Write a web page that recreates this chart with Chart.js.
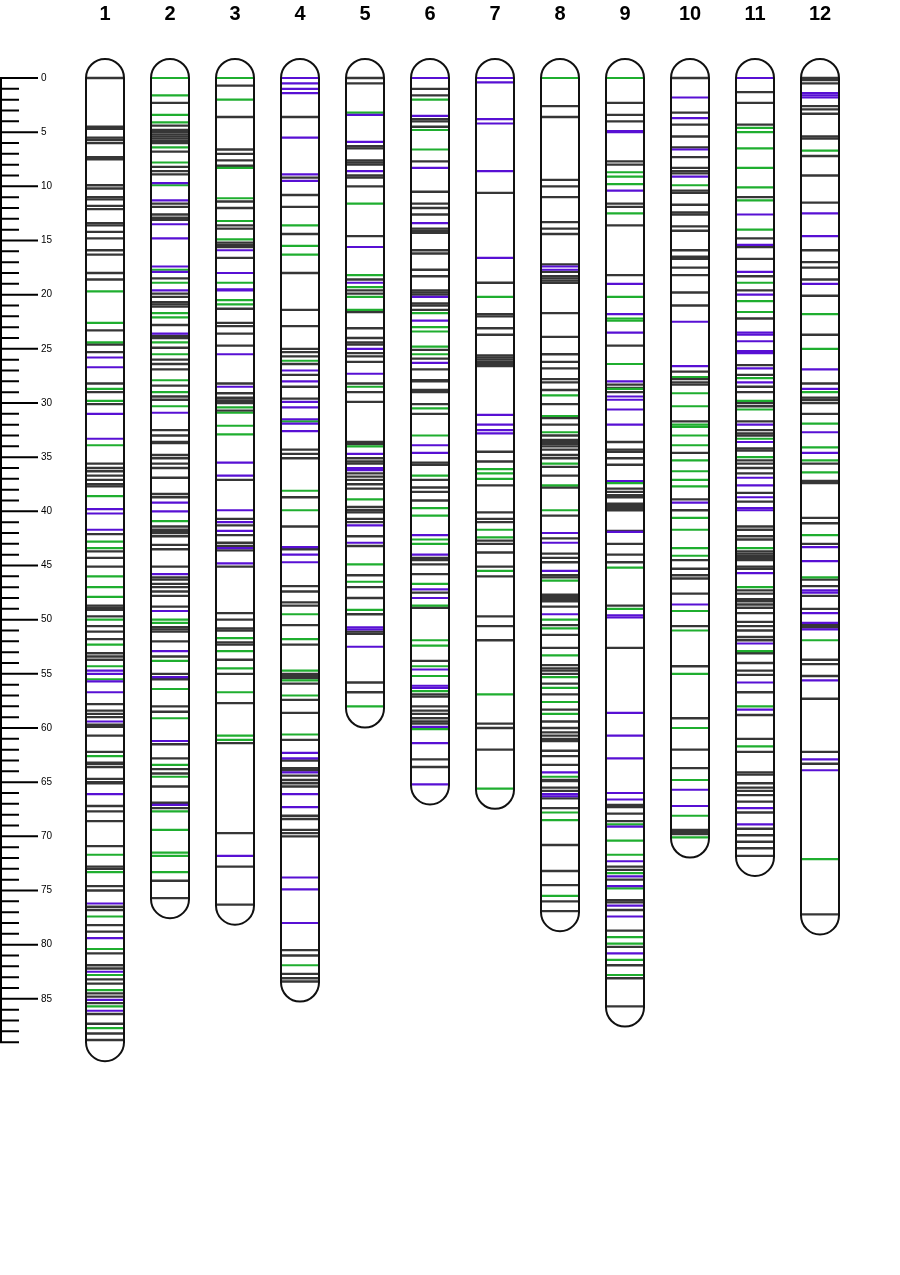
<!DOCTYPE html>
<html>
<head>
<meta charset="utf-8">
<title>Linkage map</title>
<script src="https://cdn.jsdelivr.net/npm/chart.js@4.4.1/dist/chart.umd.min.js"></script>
<style>
  html, body { margin: 0; padding: 0; background: #fff; overflow: hidden; }
  #mapChart { display: block; width: 900px; height: 1275px; }
</style>
</head>
<body>
<canvas id="mapChart" width="900" height="1275"></canvas>
<script>
// ---- data (cM) ----
const chromosomes = ['1', '2', '3', '4', '5', '6', '7', '8', '9', '10', '11', '12'];
const chromLengths = [89.0, 75.8, 76.4, 83.5, 58.2, 65.3, 65.7, 77.0, 85.8, 70.2, 71.9, 77.3];
const rulerEnd = 89;
const rulerLabels = [0, 5, 10, 15, 20, 25, 30, 35, 40, 45, 50, 55, 60, 65, 70, 75, 80, 85];

const grayPos = [
  [0, 4.5, 4.7, 5.5, 5.7, 6.0, 7.3, 7.5, 9.9, 10.2, 11.0, 11.2, 11.8, 12.1, 13.4, 13.6, 14.2, 14.8, 15.9, 16.3, 18.0, 18.6, 23.3, 24.6, 25.3, 28.2, 29.0, 30.1, 35.6, 36.0, 36.3, 36.7, 37.1, 37.5, 37.7, 42.1, 43.7, 44.3, 45.1, 48.7, 48.9, 49.1, 49.7, 50.6, 51.1, 51.8, 53.1, 53.4, 53.7, 57.8, 58.4, 58.7, 59.0, 59.7, 59.9, 60.7, 62.2, 63.2, 63.3, 63.6, 64.7, 65.0, 65.1, 67.2, 67.7, 68.6, 70.9, 72.8, 73.0, 74.6, 75.0, 76.5, 76.8, 78.2, 78.8, 80.8, 81.9, 82.2, 83.2, 83.6, 84.5, 84.8, 85.4, 86.4, 87.3, 88.2, 88.8],
  [2.3, 4.4, 4.8, 5.0, 5.2, 5.4, 5.6, 5.8, 6.0, 6.8, 8.2, 8.6, 8.9, 11.6, 11.9, 12.6, 12.9, 13.1, 18.5, 19.9, 20.2, 20.7, 20.9, 21.1, 22.8, 23.8, 24.0, 24.9, 26.0, 26.4, 26.9, 28.4, 29.4, 29.7, 32.5, 33.0, 33.6, 33.7, 34.8, 35.1, 35.6, 36.0, 36.9, 38.4, 38.7, 41.4, 41.7, 41.9, 42.0, 42.3, 43.1, 43.5, 45.1, 46.1, 46.3, 46.7, 47.0, 47.4, 47.8, 48.8, 50.7, 50.9, 51.1, 52.0, 53.4, 55.0, 55.5, 58.0, 58.5, 61.5, 62.8, 63.8, 64.2, 65.4, 66.9, 67.4, 74.1, 75.7],
  [0.7, 3.6, 6.6, 7.0, 7.6, 8.1, 11.4, 12.0, 13.6, 13.9, 15.2, 15.4, 15.6, 16.6, 21.3, 22.6, 22.9, 23.6, 24.7, 28.2, 29.1, 29.5, 29.6, 29.8, 30.0, 30.7, 37.1, 40.7, 41.3, 42.2, 42.9, 43.2, 43.6, 45.1, 49.4, 50.0, 50.8, 51.0, 52.1, 52.3, 53.7, 55.0, 57.7, 61.4, 69.7, 72.8, 76.3],
  [3.6, 9.2, 10.8, 11.9, 14.4, 18.0, 21.4, 22.9, 25.0, 25.3, 25.7, 26.4, 27.4, 28.5, 29.6, 34.3, 34.7, 35.1, 38.7, 41.4, 43.5, 46.9, 47.4, 48.4, 48.7, 50.5, 52.3, 55.0, 55.2, 55.4, 55.9, 57.4, 58.6, 61.1, 63.0, 63.7, 63.9, 64.4, 64.8, 65.1, 65.4, 68.1, 68.4, 69.4, 69.7, 70.0, 80.5, 81.0, 82.7, 83.1, 83.4],
  [0, 0.5, 6.3, 6.5, 7.6, 7.8, 8.0, 9.0, 9.2, 10.0, 14.6, 18.6, 19.6, 19.9, 21.6, 23.1, 24.0, 24.4, 24.6, 25.4, 25.7, 26.2, 28.2, 29.0, 29.9, 33.6, 33.8, 35.1, 35.4, 35.6, 36.5, 36.8, 37.1, 37.5, 37.9, 39.6, 39.9, 40.1, 40.7, 41.0, 42.3, 43.2, 45.9, 47.0, 48.0, 49.5, 51.1, 51.3, 55.8, 56.7],
  [1.0, 1.6, 3.8, 4.0, 4.5, 7.7, 10.5, 11.6, 12.0, 12.6, 13.9, 14.1, 14.3, 15.9, 16.2, 17.7, 18.3, 19.6, 19.8, 20.0, 20.8, 21.0, 21.4, 25.1, 25.9, 26.9, 27.9, 28.0, 28.8, 29.0, 30.1, 31.0, 35.5, 35.7, 37.1, 37.8, 38.2, 39.0, 44.3, 44.5, 44.9, 45.8, 47.5, 48.9, 53.8, 56.9, 57.1, 58.0, 58.4, 58.7, 59.1, 59.4, 59.6, 62.9, 63.6],
  [10.6, 18.9, 21.8, 22.0, 23.1, 23.7, 25.6, 25.8, 26.0, 26.2, 26.4, 26.6, 34.5, 35.4, 37.6, 40.1, 40.7, 41.0, 42.7, 43.0, 43.8, 45.1, 46.0, 49.7, 50.6, 51.9, 59.6, 60.0, 62.0],
  [2.6, 3.6, 9.4, 10.0, 11.0, 13.3, 13.9, 14.4, 17.2, 17.9, 18.3, 18.5, 18.7, 18.9, 21.7, 23.9, 25.5, 26.2, 26.8, 27.8, 28.1, 28.8, 30.1, 31.4, 32.0, 33.0, 33.4, 33.6, 33.8, 34.0, 34.3, 34.8, 35.1, 35.9, 36.7, 37.8, 40.4, 42.5, 43.9, 44.3, 44.7, 45.9, 46.1, 47.7, 47.9, 48.1, 48.3, 48.8, 50.5, 51.4, 52.6, 54.2, 54.5, 54.7, 55.0, 55.9, 56.9, 58.3, 59.4, 60.0, 60.4, 60.7, 61.0, 61.2, 62.1, 62.6, 63.4, 64.8, 64.9, 65.5, 65.8, 66.5, 67.4, 70.8, 73.2, 74.5, 76.0, 76.9],
  [2.3, 3.4, 4.0, 7.7, 8.0, 11.6, 11.9, 13.6, 18.2, 24.7, 28.3, 28.6, 29.0, 33.6, 34.3, 34.5, 35.1, 35.7, 37.9, 38.2, 38.5, 38.7, 39.3, 39.5, 39.7, 39.9, 41.8, 43.0, 44.0, 44.7, 48.7, 52.6, 67.1, 67.3, 67.9, 68.6, 72.8, 73.1, 74.0, 75.9, 76.1, 76.8, 78.7, 80.2, 81.9, 83.1, 85.7],
  [0, 3.2, 4.3, 5.4, 6.4, 7.3, 8.3, 8.6, 8.8, 10.4, 10.6, 11.7, 12.4, 12.6, 13.7, 14.1, 15.9, 16.5, 16.7, 17.5, 18.2, 19.8, 21.0, 27.1, 27.8, 28.1, 28.3, 31.7, 34.6, 38.9, 39.9, 44.5, 45.3, 45.9, 46.2, 47.6, 50.6, 54.3, 59.1, 62.0, 63.7, 69.4, 69.6, 69.8],
  [1.3, 2.3, 4.3, 11.0, 14.8, 15.6, 16.7, 18.3, 19.6, 22.2, 26.5, 27.4, 28.5, 29.0, 30.0, 30.3, 31.7, 32.5, 32.8, 33.0, 34.2, 34.4, 35.3, 35.6, 36.0, 36.5, 38.3, 39.1, 41.4, 41.7, 42.3, 42.6, 43.7, 43.9, 44.1, 44.3, 44.5, 45.1, 45.3, 47.3, 47.6, 48.1, 48.3, 48.6, 48.9, 49.4, 50.2, 50.6, 51.0, 51.6, 51.9, 53.1, 54.0, 54.7, 55.1, 56.7, 58.8, 61.0, 62.2, 64.1, 64.3, 65.1, 65.5, 65.8, 66.2, 66.8, 67.8, 69.3, 69.9, 70.5, 71.1, 71.8],
  [0, 0.2, 0.5, 2.6, 2.9, 3.3, 5.4, 5.6, 7.2, 9.0, 11.5, 15.9, 17.0, 17.5, 18.6, 20.1, 23.7, 28.2, 29.5, 29.7, 30.0, 31.0, 35.6, 37.2, 37.4, 40.6, 41.1, 43.0, 46.3, 46.9, 47.8, 49.0, 50.5, 50.7, 53.7, 54.1, 55.2, 57.3, 62.2, 63.3, 77.2]
];

const greenPos = [
  [19.7, 22.6, 24.4, 28.7, 29.8, 33.9, 38.6, 42.8, 43.4, 46.0, 47.0, 47.9, 50.0, 52.3, 54.3, 55.5, 62.6, 71.7, 73.3, 77.4, 80.4, 82.8, 84.2, 85.7, 87.7],
  [0, 1.6, 3.4, 4.1, 6.4, 7.8, 9.9, 17.7, 18.9, 21.7, 22.1, 24.4, 25.5, 27.9, 29.0, 30.3, 40.9, 50.0, 50.3, 53.8, 56.4, 59.1, 63.4, 64.5, 67.7, 69.4, 71.5, 71.8, 73.3],
  [0, 2.0, 8.3, 11.1, 13.2, 14.9, 18.9, 20.5, 20.9, 30.4, 30.9, 32.1, 32.9, 51.7, 52.9, 54.5, 56.7, 60.7, 61.1],
  [13.6, 15.5, 16.3, 26.1, 31.7, 38.1, 39.9, 49.5, 51.8, 54.7, 55.6, 57.0, 60.6, 81.9],
  [3.2, 11.6, 18.2, 19.3, 20.2, 21.4, 28.5, 34.0, 38.9, 44.9, 46.5, 49.1, 58.0],
  [2.0, 4.8, 6.6, 21.7, 23.0, 23.4, 24.8, 25.5, 30.5, 33.0, 36.7, 39.7, 40.4, 42.6, 43.0, 46.7, 48.7, 51.9, 52.4, 54.3, 55.2, 56.6, 60.1],
  [20.2, 36.1, 36.5, 37.0, 41.7, 42.4, 45.5, 56.9, 65.6],
  [0, 29.3, 31.2, 32.7, 35.6, 37.6, 39.9, 46.4, 50.0, 50.8, 53.3, 55.3, 56.3, 57.6, 58.7, 64.5, 67.8, 68.5, 75.5],
  [0, 8.7, 9.1, 9.8, 12.5, 20.2, 22.2, 22.4, 26.4, 28.7, 37.4, 45.2, 49.0, 68.9, 70.4, 71.7, 73.4, 74.8, 79.3, 79.9, 81.4, 82.8],
  [9.9, 27.6, 29.1, 30.3, 32.0, 32.2, 33.0, 33.9, 35.3, 36.3, 37.1, 37.7, 40.6, 41.7, 43.4, 44.1, 49.2, 51.0, 55.0, 60.0, 64.8, 68.1, 70.1],
  [4.6, 5.0, 6.5, 8.3, 10.1, 11.3, 14.0, 18.9, 20.6, 21.6, 27.7, 29.8, 30.6, 33.3, 35.0, 43.4, 47.0, 52.9, 58.0, 61.7],
  [6.7, 21.8, 25.0, 29.0, 31.9, 34.1, 35.3, 36.4, 42.2, 46.1, 51.9, 72.1]
];

const purplePos = [
  [25.8, 26.7, 31.0, 33.3, 39.8, 40.2, 41.7, 54.7, 55.0, 55.7, 56.7, 59.4, 66.1, 76.2, 79.4, 82.5, 85.1, 86.1],
  [9.7, 11.3, 13.5, 14.8, 17.4, 17.9, 19.6, 23.6, 30.9, 39.2, 40.0, 45.8, 49.2, 52.9, 55.3, 61.2, 67.1],
  [15.9, 18.0, 19.5, 19.6, 25.5, 28.5, 35.5, 36.7, 39.9, 41.0, 41.8, 43.4, 44.8, 71.8],
  [0, 0.5, 1.0, 1.4, 5.5, 8.9, 9.5, 27.0, 28.0, 29.9, 30.4, 31.5, 31.9, 32.6, 43.3, 44.0, 44.7, 62.3, 62.8, 64.1, 66.1, 67.3, 73.8, 74.9, 78.0],
  [3.4, 5.9, 8.6, 15.6, 18.9, 25.0, 27.3, 34.7, 36.0, 36.2, 41.3, 42.9, 50.7, 50.9, 52.5],
  [0, 3.5, 8.3, 13.4, 20.2, 22.4, 26.3, 33.9, 34.6, 42.2, 44.0, 47.2, 48.0, 54.6, 56.1, 56.3, 59.9, 61.4, 65.2],
  [0, 0.4, 3.8, 4.2, 8.6, 16.6, 31.1, 32.0, 32.5, 32.8],
  [17.4, 17.7, 42.0, 42.9, 45.5, 49.5, 64.1, 66.1, 66.3],
  [4.9, 5.0, 10.4, 19.0, 21.8, 23.5, 28.0, 29.4, 29.7, 30.6, 32.0, 37.2, 41.9, 49.6, 49.8, 58.6, 60.7, 62.8, 66.0, 66.6, 69.1, 72.3, 73.7, 74.6, 76.4, 77.4, 80.8],
  [1.8, 3.7, 6.6, 9.1, 22.5, 26.6, 39.2, 48.6, 65.7, 67.2],
  [0, 12.6, 15.4, 17.9, 20.0, 23.5, 23.7, 24.3, 25.2, 25.4, 26.8, 28.1, 32.0, 33.6, 36.9, 37.6, 38.7, 39.7, 39.9, 45.7, 52.2, 55.8, 58.3, 67.4, 68.9],
  [1.4, 1.6, 1.8, 12.5, 14.6, 19.0, 26.9, 28.7, 32.7, 34.6, 43.3, 44.6, 47.3, 47.5, 49.4, 50.3, 50.9, 55.6, 62.9, 63.9]
];

// ---- helpers ----
function toPoints(lists) {
    const pts = [];
    lists.forEach((list, i) => {
        list.forEach(v => pts.push({ x: i + 1, y: v }));
    });
    return pts;
}

function markerSet(label, lists, color, width) {
    return {
        label: label,
        data: toPoints(lists),
        pointStyle: 'line',
        pointRadius: 19,
        pointHoverRadius: 19,
        borderWidth: width,
        pointBorderWidth: width,
        borderColor: color,
        backgroundColor: color,
        clip: false
    };
}

// chromosome outlines (rounded bars) drawn over the markers
const outlinePlugin = {
    id: 'outlines',
    afterDatasetsDraw(chart) {
        const { ctx, scales: { x, y } } = chart;
        const r = 19;
        ctx.save();
        ctx.strokeStyle = '#111';
        ctx.lineWidth = 2;
        chromLengths.forEach((len, i) => {
            const cx = x.getPixelForValue(i + 1);
            const top = y.getPixelForValue(0);
            const bot = y.getPixelForValue(len);
            ctx.beginPath();
            ctx.moveTo(cx - r, bot);
            ctx.lineTo(cx - r, top);
            ctx.arc(cx, top, r, Math.PI, 0);
            ctx.lineTo(cx + r, bot);
            ctx.arc(cx, bot, r, 0, Math.PI);
            ctx.closePath();
            ctx.stroke();
        });
        ctx.restore();
    }
};

// cM ruler on the left
const rulerPlugin = {
    id: 'ruler',
    afterDraw(chart) {
        const { ctx, scales: { y } } = chart;
        ctx.save();
        ctx.strokeStyle = '#000';
        ctx.lineWidth = 2;
        ctx.beginPath();
        ctx.moveTo(1, y.getPixelForValue(0));
        ctx.lineTo(1, y.getPixelForValue(rulerEnd));
        for (let v = 0; v <= rulerEnd; v++) {
            const py = y.getPixelForValue(v);
            ctx.moveTo(0, py);
            ctx.lineTo(v % 5 === 0 ? 38 : 19, py);
        }
        ctx.stroke();

        ctx.fillStyle = '#000';
        ctx.font = '10px "Liberation Sans", Arial, sans-serif';
        ctx.textBaseline = 'middle';
        ctx.textAlign = 'left';
        rulerLabels.forEach(v => {
            ctx.fillText(String(v), 41, y.getPixelForValue(v));
        });
        ctx.restore();
    }
};

const ctx = document.getElementById('mapChart').getContext('2d');

new Chart(ctx, {
    type: 'scatter',
    data: {
        datasets: [
            markerSet('purple', purplePos, '#5810d4', 2.2),
            markerSet('green', greenPos, '#1fae2f', 2.2),
            markerSet('gray', grayPos, '#363636', 2.4)
        ]
    },
    options: {
        responsive: false,
        animation: false,
        events: [],
        layout: {
            // the wide 'line' points would otherwise push the chart area in
            autoPadding: false,
            padding: { left: 40, right: 15, top: 0, bottom: 222 }
        },
        plugins: {
            legend: { display: false },
            tooltip: { enabled: false }
        },
        scales: {
            x: {
                type: 'linear',
                position: 'top',
                min: 0,
                max: 13,
                afterFit: (scale) => {
                    scale.height = 30;
                    scale.paddingLeft = 0;
                    scale.paddingRight = 0;
                },
                afterBuildTicks: (scale) => {
                    scale.ticks = chromosomes.map((c, i) => ({ value: i + 1 }));
                },
                grid: { display: false, drawTicks: false },
                border: { display: false },
                ticks: {
                    autoSkip: false,
                    maxRotation: 0,
                    padding: 4,
                    color: '#000',
                    font: { family: '"Liberation Sans", Arial, sans-serif', size: 20, weight: 'bold' },
                    callback: (value) => chromosomes[value - 1] || ''
                }
            },
            y: {
                type: 'linear',
                display: false,
                reverse: true,
                // space above 0 holds the caps
                min: -4.43,
                max: 90
            }
        }
    },
    plugins: [outlinePlugin, rulerPlugin]
});
</script>
</body>
</html>
